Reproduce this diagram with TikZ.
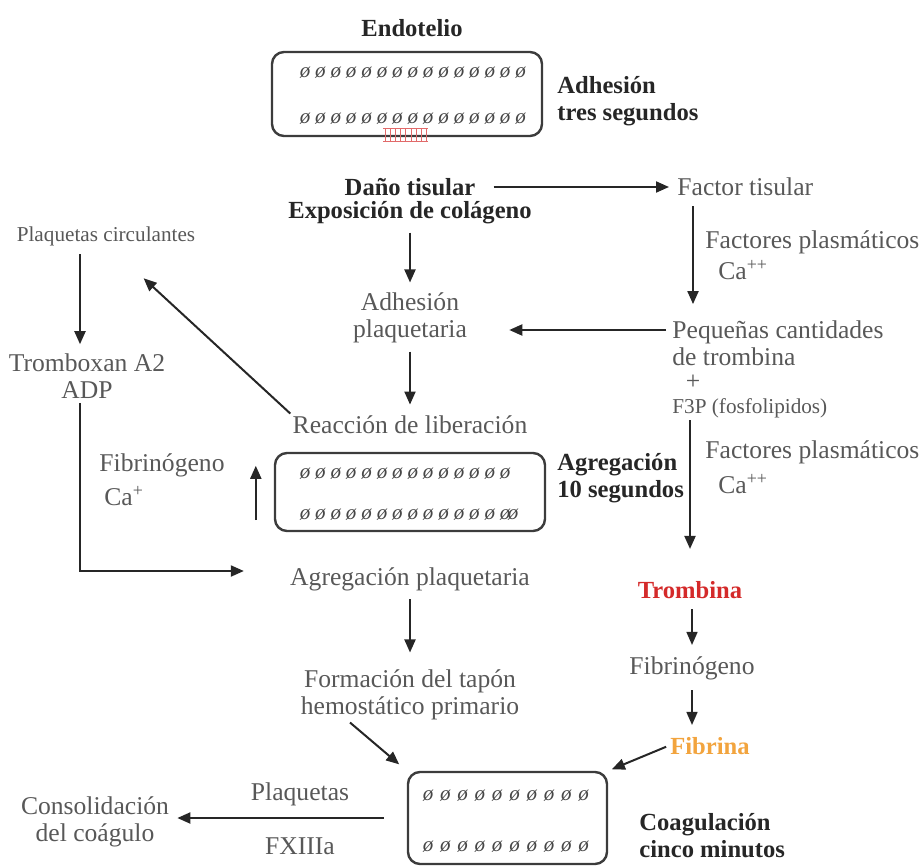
\documentclass[tikz,border=0pt]{standalone}
\usepackage{fontspec}
\setmainfont{Liberation Serif}
\usepackage{xcolor}
\definecolor{hmgray}{RGB}{88,88,88}
\definecolor{hmdark}{RGB}{38,38,38}
\definecolor{hmred}{RGB}{212,42,42}
\definecolor{hmorange}{RGB}{242,164,62}
\usetikzlibrary{arrows.meta}
\tikzset{
  txt/.style={text=hmgray,font=\fontsize{12.8}{13.5}\selectfont,inner sep=1pt,align=center},
  small/.style={txt,font=\fontsize{10.6}{12}\selectfont},
  hd/.style={text=hmdark,font=\fontsize{12.3}{13.5}\selectfont\bfseries,inner sep=1pt,align=left},
  cell/.style={draw=hmdark!90,line width=1.2pt,rounded corners=6pt},
  plt/.style={text=hmdark!85,font=\fontsize{10.5}{12}\selectfont\itshape,inner sep=0pt},
  flow/.style={-{Triangle[length=6.5pt,width=5.5pt]},draw=hmdark,line width=1pt},
}

\begin{document}
\begin{tikzpicture}[x=0.5pt,y=-0.5pt]
\useasboundingbox (0,0) rectangle (919,866);

% Adhesion: endothelium
\node[hd] (endotelio) at (412,28) {Endotelio};
\node[cell,minimum width=135pt,minimum height=42pt] (endo) at (407,94) {};
\foreach \i in {0,...,14} {
  \node[plt] (ea\i) at (305+\i*15.4,73) {ø};
  \node[plt] (eb\i) at (305+\i*15.4,119) {ø};
}
\foreach \i in {0,...,8}
  \draw[hmred!70,line width=0.5pt] (385+\i*5.2,129) -- (385+\i*5.2,142);
\draw[hmred!70,line width=0.5pt] (383,129) -- (428,129) (383,142) -- (428,142);
\node[hd,anchor=west] (adhT) at (555,101) {Adhesión\\tres segundos};

% Tissue damage and extrinsic path
\node[hd,align=center] (dano) at (410,187) {Daño tisular};
\node[hd,align=center] (expo) at (410,213) {Exposición de colágeno};
\node[txt,anchor=west] (factor) at (675,187) {Factor tisular};
\node[txt,anchor=west] (fp1) at (703,242) {Factores plasmáticos};
\node[txt,anchor=west] (ca1) at (716,270) {Ca\textsuperscript{++}};
\node[txt,anchor=west,align=left] (peq) at (670,343) {Pequeñas cantidades\\de trombina};
\node[txt] (plus) at (693,382) {+};
\node[small,anchor=west] (f3p) at (670,408) {F3P (fosfolipidos)};

\draw[flow,shorten <=8pt,shorten >=3pt] (dano.east) -- (factor.west);
\draw[flow,shorten <=4pt,shorten >=7pt] ([xshift=9pt]factor.south west) -- ([xshift=9pt]factor.south west |- peq.north);

% Platelet path
\node[txt] (adh) at (410,318) {Adhesión\\plaquetaria};
\node[txt] (reac) at (410,425) {Reacción de liberación};
\node[small] (circ) at (106,236) {Plaquetas circulantes};
\node[txt] (trom) at (87,376) {Tromboxan A2\\ADP};
\node[txt,anchor=west] (fib1) at (97,465) {Fibrinógeno};
\node[txt,anchor=west] (ca2) at (102,496) {Ca\textsuperscript{+}};

\draw[flow,shorten <=2pt,shorten >=20pt] ([yshift=6.5pt]peq.west) -- ([yshift=6.5pt]peq.west -| adh.east);
\draw[flow,shorten <=3pt,shorten >=4pt] (expo) -- (adh);
\draw[flow,shorten <=3pt,shorten >=4.5pt] (adh) -- (reac);
\draw[flow,shorten >=12pt] (reac.north west) -- ([xshift=10pt,yshift=-7pt]circ.south);
\draw[flow,shorten <=3pt,shorten >=3.5pt] ([xshift=-13pt]circ.south) -- ([xshift=-13pt]circ.south |- trom.north);

% Aggregation
\node[cell,minimum width=135pt,minimum height=39pt] (agr) at (410,492) {};
\foreach \i in {0,...,13} {
  \node[plt] (ga\i) at (305+\i*15.4,474) {ø};
  \node[plt] (gb\i) at (305+\i*15.4,515) {ø};
}
\node[plt] (gbx) at (513,515) {ø};
\node[hd,anchor=west] (agrT) at (555,478) {Agregación\\10 segundos};
\node[txt] (agp) at (410,579) {Agregación plaquetaria};

\draw[flow] ([xshift=-9pt,yshift=6pt]agr.south west) -- ([xshift=-9pt,yshift=-7pt]agr.north west);
\draw[flow,shorten <=1pt,shorten >=22pt] ([xshift=-3.5pt]trom.south) |- ([yshift=4pt]agp.west);

% Coagulation cascade
\node[txt,anchor=west] (fp2) at (703,452) {Factores plasmáticos};
\node[txt,anchor=west] (ca3) at (716,484) {Ca\textsuperscript{++}};
\node[hd,text=hmred,align=center] (trombina) at (690,590) {Trombina};
\node[txt] (fibg) at (692,668) {Fibrinógeno};
\node[hd,text=hmorange,align=center] (fibrina) at (710,746) {Fibrina};

\draw[flow,shorten >=15pt] ([xshift=10pt]f3p.south west) -- ([xshift=10pt]f3p.south west |- trombina.north);
\draw[flow,line width=0.8pt,shorten <=4pt,shorten >=4.5pt] ([xshift=1pt]trombina.south) -- ([xshift=1pt]trombina.south |- fibg.north);
\draw[flow,line width=0.8pt,shorten <=4pt,shorten >=5pt] (fibg.south) -- (fibg.south |- fibrina.north);

% Primary plug and clot
\node[txt] (form) at (410,695) {Formación del tapón\\hemostático primario};
\node[cell,minimum width=99.5pt,minimum height=46pt] (coag) at (507.5,818) {};
\foreach \i in {0,...,9} {
  \node[plt] (ca\i) at (428+\i*17.3,796) {ø};
  \node[plt] (cb\i) at (428+\i*17.3,847) {ø};
}
\node[hd,anchor=west] (coagT) at (637,836) {Coagulación\\cinco minutos};
\node[txt] (plq) at (300,794) {Plaquetas};
\node[txt] (fx) at (300,846) {FXIIIa};
\node[txt] (cons) at (95,822) {Consolidación\\del coágulo};

\draw[flow,shorten <=3pt,shorten >=7.5pt] (agp) -- (form);
\draw[flow,shorten >=5pt] ([xshift=-30pt]form.south) -- (coag.north west);
\draw[flow,shorten <=1pt,shorten >=2pt] (fibrina.west) -- (coag.north east);
\draw[flow,shorten <=11.5pt,shorten >=3pt] (coag.west) -- (coag.west -| cons.east);
\end{tikzpicture}
\end{document}
